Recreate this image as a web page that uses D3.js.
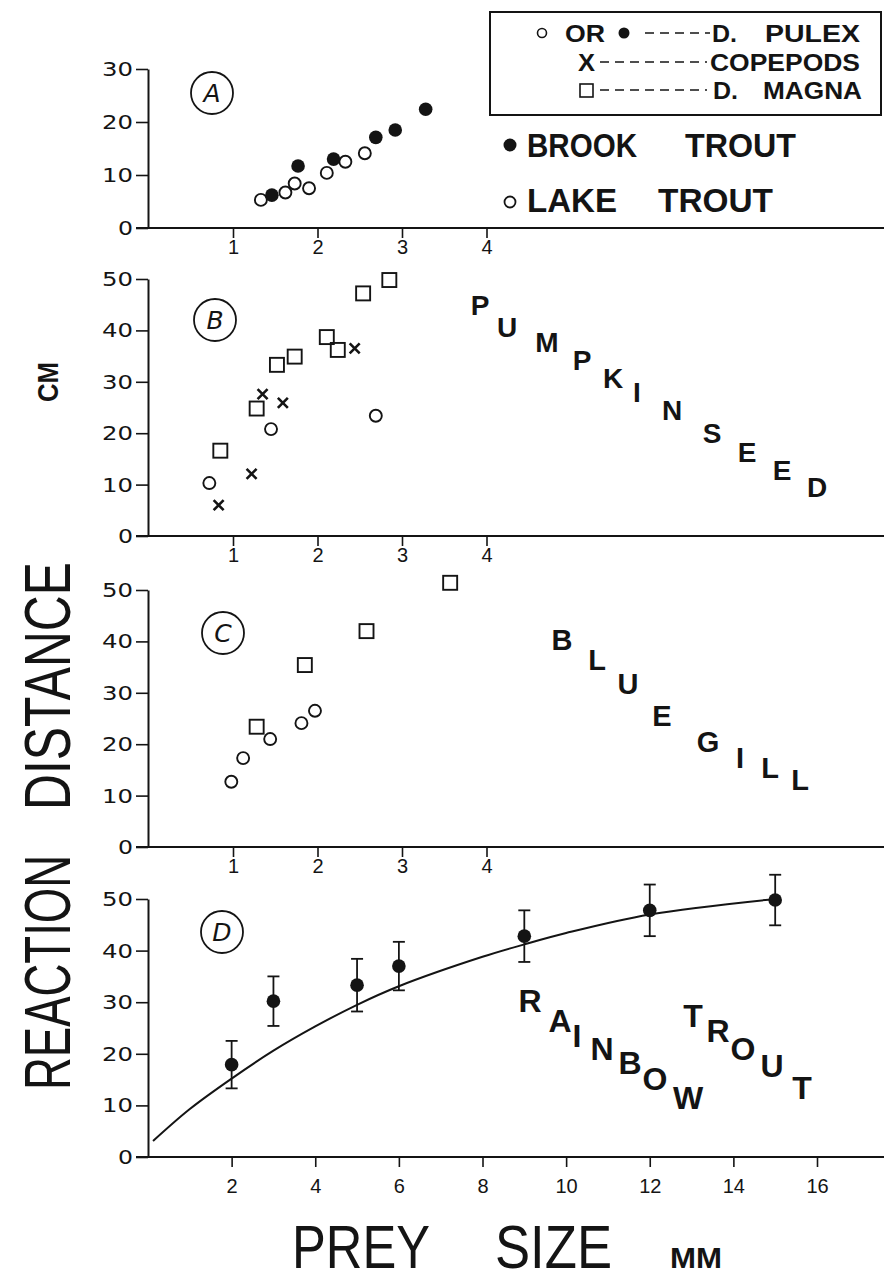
<!DOCTYPE html>
<html>
<head>
<meta charset="utf-8">
<script src="https://cdn.jsdelivr.net/npm/d3@7"></script>
<style>
  body { margin: 0; background: #fff; }
  svg { display: block; }
</style>
</head>
<body>
<div id="chart"></div>
<script>
// ---- data ----
// A: brook trout (filled) and lake trout (open) feeding on D. pulex
const aBrookSize = [1.46, 1.77, 2.19, 2.69, 2.92, 3.28];
const aBrookDist = [6.2, 11.7, 13.0, 17.1, 18.5, 22.4];
const aLakeSize = [1.33, 1.62, 1.73, 1.90, 2.11, 2.33, 2.56];
const aLakeDist = [5.3, 6.7, 8.4, 7.5, 10.4, 12.5, 14.1];

// B: pumpkinseed
const bPulexSize = [0.72, 1.45, 2.69];
const bPulexDist = [10.3, 20.8, 23.4];
const bMagnaSize = [0.85, 1.28, 1.52, 1.73, 2.11, 2.24, 2.54, 2.85];
const bMagnaDist = [16.6, 24.8, 33.3, 34.9, 38.7, 36.2, 47.2, 49.8];
const bCopeSize = [0.83, 1.22, 1.35, 1.59, 2.44];
const bCopeDist = [6.0, 12.1, 27.6, 25.9, 36.5];

// C: bluegill
const cPulexSize = [0.98, 1.12, 1.44, 1.81, 1.97];
const cPulexDist = [12.7, 17.3, 21.0, 24.1, 26.5];
const cMagnaSize = [1.28, 1.85, 2.58, 3.57];
const cMagnaDist = [23.4, 35.4, 42.0, 51.4];

// D: rainbow trout, means with error bars, plus fitted curve
const dSize = [2, 3, 5, 6, 9, 12, 15];
const dMean = [17.9, 30.2, 33.3, 37.0, 42.8, 47.8, 49.8];
const dErr = [4.6, 4.8, 5.1, 4.7, 5.0, 5.0, 4.9];
const fitSize = [0.12, 1, 2, 3, 4, 5, 6, 8, 9, 10, 12, 15];
const fitDist = [3.1, 9.3, 15.2, 20.6, 25.3, 29.5, 33.1, 38.8, 41.2, 43.4, 47.0, 50.0];

const ticksSmallX = [1, 2, 3, 4];
const ticksLargeX = [2, 4, 6, 8, 10, 12, 14, 16];
const ticksA = [0, 10, 20, 30];
const ticksBCD = [0, 10, 20, 30, 40, 50];

// ---- drawing ----
const ink = "#141414";
const svg = d3.select("#chart").append("svg")
  .attr("width", 884).attr("height", 1283);

const xSmall = d3.scaleLinear().domain([0, 4]).range([148.5, 486.5]);
const xLarge = d3.scaleLinear().domain([0, 16]).range([148, 817]);

const panels = [
  { name: "A", top: 69, bottom: 228, max: 30, x: xSmall, xTicks: ticksSmallX, yTicks: ticksA, lab: [212, 93], pad: 2 },
  { name: "B", top: 279, bottom: 536, max: 50, x: xSmall, xTicks: ticksSmallX, yTicks: ticksBCD, lab: [215, 320], pad: 2 },
  { name: "C", top: 590, bottom: 847, max: 50, x: xSmall, xTicks: ticksSmallX, yTicks: ticksBCD, lab: [223, 633], pad: 2 },
  { name: "D", top: 899, bottom: 1157, max: 50, x: xLarge, xTicks: ticksLargeX, yTicks: ticksBCD, lab: [222, 932], pad: 12 },
];
panels.forEach(p => {
  p.y = d3.scaleLinear().domain([0, p.max]).range([p.bottom, p.top]);
});

function drawAxes(p) {
  const g = svg.append("g");
  g.append("line")
    .attr("x1", 136).attr("x2", 884)
    .attr("y1", p.bottom).attr("y2", p.bottom)
    .attr("stroke", ink).attr("stroke-width", 2);

  const yAx = g.append("g")
    .attr("transform", "translate(148,0)")
    .call(d3.axisLeft(p.y).tickValues(p.yTicks).tickSize(12).tickSizeOuter(0).tickPadding(3));
  yAx.select(".domain").attr("stroke", ink).attr("stroke-width", 2);
  yAx.selectAll(".tick line").attr("stroke", ink).attr("stroke-width", 1.6);
  // wide, rounded numerals as in the original lettering
  yAx.selectAll("text")
    .attr("fill", ink)
    .attr("textLength", d => d === 0 ? 15 : 31)
    .attr("lengthAdjust", "spacingAndGlyphs")
    .style("font-family", "'DejaVu Sans'")
    .style("font-size", "20px");

  const xAx = g.append("g")
    .attr("transform", `translate(0,${p.bottom})`)
    .call(d3.axisBottom(p.x).tickValues(p.xTicks).tickFormat(d3.format("d"))
      .tickSize(10).tickSizeOuter(0).tickPadding(p.pad));
  xAx.select(".domain").remove();
  xAx.selectAll(".tick line").attr("stroke", ink).attr("stroke-width", 1.6);
  xAx.selectAll("text")
    .attr("fill", ink)
    .style("font-family", "'Liberation Sans'")
    .style("font-size", "20px");

  // circled panel letter
  g.append("circle")
    .attr("cx", p.lab[0]).attr("cy", p.lab[1]).attr("r", 21)
    .attr("fill", "none").attr("stroke", ink).attr("stroke-width", 1.8);
  g.append("text")
    .attr("x", p.lab[0]).attr("y", p.lab[1]).attr("dy", "0.36em")
    .attr("text-anchor", "middle")
    .attr("fill", ink)
    .style("font-family", "'DejaVu Sans'")
    .style("font-style", "italic")
    .style("font-size", "25px")
    .text(p.name);
}
panels.forEach(drawAxes);

function zip(xs, ys) { return xs.map((v, i) => ({ x: v, y: ys[i] })); }

function openCircles(p, xs, ys) {
  svg.append("g").selectAll("circle").data(zip(xs, ys)).join("circle")
    .attr("cx", d => p.x(d.x)).attr("cy", d => p.y(d.y)).attr("r", 6)
    .attr("fill", "#fff").attr("stroke", ink).attr("stroke-width", 1.9);
}
function filledCircles(p, xs, ys) {
  svg.append("g").selectAll("circle").data(zip(xs, ys)).join("circle")
    .attr("cx", d => p.x(d.x)).attr("cy", d => p.y(d.y)).attr("r", 6.8)
    .attr("fill", ink);
}
function squares(p, xs, ys) {
  svg.append("g").selectAll("rect").data(zip(xs, ys)).join("rect")
    .attr("x", d => p.x(d.x) - 7).attr("y", d => p.y(d.y) - 7)
    .attr("width", 14).attr("height", 14)
    .attr("fill", "none").attr("stroke", ink).attr("stroke-width", 1.9);
}
function crosses(p, xs, ys) {
  svg.append("g").selectAll("path").data(zip(xs, ys)).join("path")
    .attr("d", d => {
      const cx = p.x(d.x), cy = p.y(d.y), s = 5;
      return `M${cx - s},${cy - s}L${cx + s},${cy + s}M${cx + s},${cy - s}L${cx - s},${cy + s}`;
    })
    .attr("stroke", ink).attr("stroke-width", 2.6).attr("fill", "none");
}

const [pA, pB, pC, pD] = panels;

openCircles(pA, aLakeSize, aLakeDist);
filledCircles(pA, aBrookSize, aBrookDist);

openCircles(pB, bPulexSize, bPulexDist);
squares(pB, bMagnaSize, bMagnaDist);
crosses(pB, bCopeSize, bCopeDist);

openCircles(pC, cPulexSize, cPulexDist);
squares(pC, cMagnaSize, cMagnaDist);

// D: fitted curve, error bars, means
svg.append("path")
  .datum(zip(fitSize, fitDist))
  .attr("d", d3.line().x(d => pD.x(d.x)).y(d => pD.y(d.y)).curve(d3.curveCatmullRom))
  .attr("fill", "none").attr("stroke", ink).attr("stroke-width", 2);

const errG = svg.append("g").selectAll("g")
  .data(dSize.map((s, i) => ({ x: s, y: dMean[i], e: dErr[i] })))
  .join("g");
errG.append("line")
  .attr("x1", d => pD.x(d.x)).attr("x2", d => pD.x(d.x))
  .attr("y1", d => pD.y(d.y - d.e)).attr("y2", d => pD.y(d.y + d.e))
  .attr("stroke", ink).attr("stroke-width", 1.8);
errG.selectAll("line.cap")
  .data(d => [d.y - d.e, d.y + d.e].map(v => ({ x: d.x, v })))
  .join("line").attr("class", "cap")
  .attr("x1", d => pD.x(d.x) - 6).attr("x2", d => pD.x(d.x) + 6)
  .attr("y1", d => pD.y(d.v)).attr("y2", d => pD.y(d.v))
  .attr("stroke", ink).attr("stroke-width", 1.8);
filledCircles(pD, dSize, dMean);

// ---- legend box ----
const lg = svg.append("g");
lg.append("rect")
  .attr("x", 490).attr("y", 12).attr("width", 391).attr("height", 103)
  .attr("fill", "#fff").attr("stroke", ink).attr("stroke-width", 2);

function label(x, y, txt, size, len, weight) {
  const t = svg.append("text")
    .attr("x", x).attr("y", y)
    .attr("fill", ink)
    .style("font-family", "'Liberation Sans'")
    .style("font-weight", weight || "bold")
    .style("font-size", size + "px")
    .text(txt);
  if (len) t.attr("textLength", len).attr("lengthAdjust", "spacingAndGlyphs");
  return t;
}
function dashes(x1, x2, y) {
  lg.append("line").attr("x1", x1).attr("x2", x2).attr("y1", y).attr("y2", y)
    .attr("stroke", ink).attr("stroke-width", 1.6).attr("stroke-dasharray", "9,6");
}

lg.append("circle").attr("cx", 542).attr("cy", 33).attr("r", 4.5)
  .attr("fill", "#fff").attr("stroke", ink).attr("stroke-width", 1.6);
label(565, 41.5, "OR", 23, 40);
lg.append("circle").attr("cx", 624).attr("cy", 33).attr("r", 5.5).attr("fill", ink);
dashes(645, 710, 33);
label(712, 41.5, "D.", 23, 25);
label(765, 41.5, "PULEX", 23, 95);

label(578, 70.5, "X", 23, 17);
dashes(600, 707, 62);
label(710, 70.5, "COPEPODS", 23, 150);

lg.append("rect").attr("x", 580).attr("y", 84).attr("width", 13).attr("height", 13)
  .attr("fill", "none").attr("stroke", ink).attr("stroke-width", 1.6);
dashes(600, 707, 90);
label(713, 98.5, "D.", 23, 25);
label(763, 98.5, "MAGNA", 23, 99);

// species key for panel A
svg.append("circle").attr("cx", 510).attr("cy", 145).attr("r", 6.5).attr("fill", ink);
label(527, 157, "BROOK", 33, 110);
label(685, 157, "TROUT", 33, 111);
svg.append("circle").attr("cx", 510).attr("cy", 202).attr("r", 5.5)
  .attr("fill", "#fff").attr("stroke", ink).attr("stroke-width", 1.8);
label(527, 212, "LAKE", 33, 90);
label(658, 212, "TROUT", 33, 115);

// ---- staggered species names ----
const pumpkinseedPos = [[480, 305], [507, 327], [547, 342], [582, 360], [613, 378], [637, 392],
  [672, 410], [712, 433], [747, 452], [782, 470], [817, 487]];
const bluegillPos = [[562, 640], [597, 660], [628, 684], [662, 716], [708, 742], [740, 758], [770, 768], [800, 780]];
const rainbowPos = [[530, 1000], [560, 1020], [577, 1035], [602, 1048], [630, 1062], [655, 1078], [688, 1097]];
const troutPos = [[693, 1015], [718, 1030], [743, 1048], [772, 1065], [802, 1087]];

function stagger(word, pos, size) {
  svg.append("g").selectAll("text").data(word.split("")).join("text")
    .attr("x", (d, i) => pos[i][0]).attr("y", (d, i) => pos[i][1])
    .attr("dy", "0.36em")
    .attr("text-anchor", "middle")
    .attr("fill", ink)
    .style("font-family", "'Liberation Sans'")
    .style("font-weight", "bold")
    .style("font-size", size + "px")
    .text(d => d);
}
stagger("PUMPKINSEED", pumpkinseedPos, 28);
stagger("BLUEGILL", bluegillPos, 29);
stagger("RAINBOW", rainbowPos, 32);
stagger("TROUT", troutPos, 32);

// ---- axis titles ----
function rotated(x, y, txt, size, len, weight) {
  svg.append("text")
    .attr("transform", `translate(${x},${y}) rotate(-90)`)
    .attr("fill", ink)
    .attr("textLength", len).attr("lengthAdjust", "spacingAndGlyphs")
    .style("font-family", "'Liberation Sans'")
    .style("font-weight", weight || "normal")
    .style("font-size", size + "px")
    .text(txt);
}
rotated(70, 1090, "REACTION", 64, 235);
rotated(70, 810, "DISTANCE", 64, 248);
rotated(58, 402, "CM", 29, 40, "bold");

label(292, 1268, "PREY", 62, 138, "normal");
label(495, 1268, "SIZE", 62, 117, "normal");
label(670, 1268, "MM", 30, 52, "bold");
</script>
</body>
</html>
